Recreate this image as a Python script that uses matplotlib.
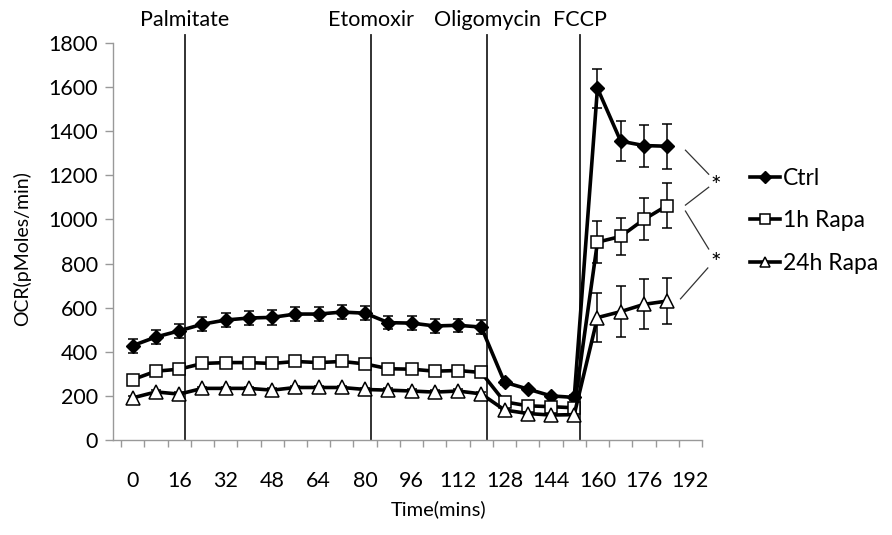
import matplotlib
matplotlib.use('Agg')
import matplotlib.pyplot as plt

plt.rcParams['font.family'] = ['Lato', 'DejaVu Sans']

# time points (mins) and OCR values
time = [0, 8, 16, 24, 32, 40, 48, 56, 64, 72, 80, 88, 96, 104, 112, 120,
        128, 136, 144, 152, 160, 168, 176, 184]

ctrl = [428, 467, 495, 525, 544, 553, 556, 571, 571, 580, 575, 532, 530, 517, 520, 512,
        262, 231, 200, 193, 1595, 1355, 1335, 1332]
ctrl_err = [32, 30, 32, 32, 33, 33, 33, 33, 33, 33, 33, 30, 30, 30, 30, 30,
            12, 10, 10, 10, 88, 90, 95, 102]

rapa1 = [274, 312, 321, 347, 351, 351, 347, 356, 351, 356, 345, 323, 321, 312, 315, 306,
         173, 155, 151, 146, 897, 923, 1000, 1063]
rapa1_err = [10, 10, 10, 10, 10, 10, 10, 10, 10, 10, 10, 10, 10, 10, 10, 10,
             8, 8, 8, 8, 95, 85, 95, 100]

rapa24 = [191, 218, 208, 234, 234, 234, 226, 238, 238, 238, 229, 226, 222, 217, 222, 209,
          136, 120, 113, 115, 555, 582, 615, 630]
rapa24_err = [8, 8, 8, 8, 8, 8, 8, 8, 8, 8, 8, 8, 8, 8, 8, 8,
              6, 6, 6, 6, 110, 115, 113, 105]

injections = ['Palmitate', 'Etomoxir', 'Oligomycin', 'FCCP']
inj_time = [18, 82, 122, 154]

fig = plt.figure(figsize=(8.92, 5.35), dpi=100)
ax = fig.add_axes([0.1267, 0.1776, 0.787 - 0.1267, 0.9196 - 0.1776])

# injection lines
for name, t in zip(injections, inj_time):
    ax.plot([t, t], [0, 1835], color='#222222', lw=1.3, clip_on=False, zorder=1)
    ax.text(t, 1905, name, ha='center', va='center', fontsize=15.5)

common = dict(color='black', lw=2.6, ecolor='black', elinewidth=1.1, capsize=3.5,
              capthick=1.1, markeredgecolor='black', zorder=3, clip_on=False)
ax.errorbar(time, ctrl, yerr=ctrl_err, marker='D', ms=7.5, mfc='black', label='Ctrl', **common)
ax.errorbar(time, rapa1, yerr=rapa1_err, marker='s', ms=9, mfc='white', mew=1.1,
            label='1h Rapa', **common)
ax.errorbar(time, rapa24, yerr=rapa24_err, marker='^', ms=9.5, mfc='white', mew=1.1,
            label='24h Rapa', **common)

# significance brackets
brk = dict(color='#333333', lw=0.9, clip_on=False)
ax.plot([190.3, 198.3], [1314, 1205], **brk)
ax.plot([190.3, 198.3], [1065, 1146], **brk)
ax.plot([190.3, 198.3], [1038, 866], **brk)
ax.plot([188.6, 198.0], [640, 780], **brk)
ax.text(200.6, 1150, '*', ha='center', va='center', fontsize=18)
ax.text(200.6, 802, '*', ha='center', va='center', fontsize=18)

ax.set_xlim(-6.8, 196)
ax.set_ylim(0, 1800)
ax.set_yticks(range(0, 1801, 200))
ax.set_xticks(range(0, 193, 16))
ax.set_xticks(range(-4, 197, 8), minor=True)
ax.tick_params(axis='x', which='major', length=0, pad=22, labelsize=15.5)
ax.tick_params(axis='x', which='minor', length=5, color='#999999', width=1)
ax.tick_params(axis='y', length=6, color='#999999', width=1, labelsize=15.5, pad=5)

for s in ['top', 'right']:
    ax.spines[s].set_visible(False)
for s in ['left', 'bottom']:
    ax.spines[s].set_color('#999999')
    ax.spines[s].set_linewidth(1)

ax.set_xlabel('Time(mins)', fontsize=14.5, labelpad=4)
ax.xaxis.set_label_coords(0.552, -0.152)
ax.set_ylabel('OCR(pMoles/min)', fontsize=14)
ax.yaxis.set_label_coords(-0.139, 0.481)

handles, labels = ax.get_legend_handles_labels()
handles = [h[0] for h in handles]
leg = ax.legend(handles, labels, loc='center left', bbox_to_anchor=(0.841, 0.587),
                bbox_transform=fig.transFigure, frameon=False, fontsize=16.5,
                borderpad=0, borderaxespad=0, handlelength=1.3, handletextpad=0.12,
                labelspacing=0.95, markerscale=0.75)

fig.savefig('out.png', dpi=100)
